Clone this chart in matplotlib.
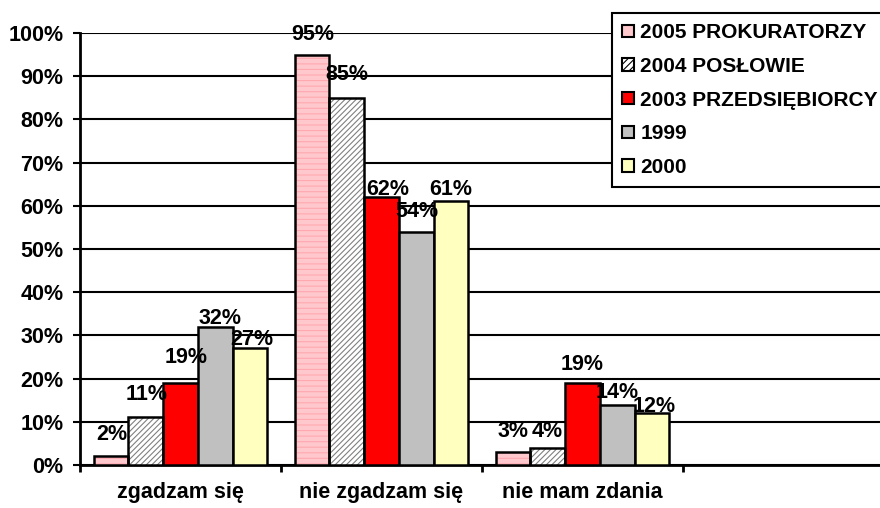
import matplotlib.pyplot as plt
import numpy as np
from matplotlib.patches import Patch

plt.rcParams['font.family'] = ['Liberation Sans', 'DejaVu Sans']
plt.rcParams['font.weight'] = 'bold'
plt.rcParams['hatch.linewidth'] = 0.8

categories = ['zgadzam się', 'nie zgadzam się', 'nie mam zdania']
series = ['2005 PROKURATORZY', '2004 POSŁOWIE', '2003 PRZEDSIĘBIORCY', '1999', '2000']
values = [
    [2, 95, 3],
    [11, 85, 4],
    [19, 62, 19],
    [32, 54, 14],
    [27, 61, 12],
]

colors = ['#FFC8CC', 'white', '#FF0000', '#C0C0C0', '#FFFFC0']
hatches = ['---', '//////', None, None, None]
hatch_colors = ['#FFA8B0', '#808080', None, None, None]
# label placement as it sits in the original (px above bar top, px sideways)
label_gap = [[16, 15, 15], [17, 18, 11], [20, 2, 13], [3, 15, 7], [3, 6, 1]]
label_dx = [[1, 1, 0], [1, 0, -1], [6, 6, 0], [5, 1, 0], [2, 0, 2]]
fs = 15.5

fig = plt.figure(figsize=(8.8, 5.08), dpi=100)
ax = fig.add_axes([80 / 880, 43 / 508, 804 / 880, 432 / 508])

x = np.arange(len(categories))
w = 0.173
for j, name in enumerate(series):
    pos = x + (j - 2) * w
    vals = np.array(values[j]) / 100
    if hatches[j]:
        ax.bar(pos, vals, w, color=colors[j], edgecolor=hatch_colors[j],
               hatch=hatches[j], linewidth=0, zorder=3)
        ax.bar(pos, vals, w, facecolor='none', edgecolor='black', linewidth=1.8, zorder=4)
    else:
        ax.bar(pos, vals, w, color=colors[j], edgecolor='black', linewidth=1.8, zorder=3)
    for k, v in enumerate(values[j]):
        ax.annotate(f'{v}%', (pos[k], v / 100),
                    xytext=(label_dx[j][k] * 0.72, label_gap[j][k] * 0.72),
                    textcoords='offset points', ha='center', va='baseline',
                    fontsize=fs, fontweight='bold', zorder=5)

ax.set_xlim(-0.5, 3.5)
ax.set_ylim(0, 1)
ticks = np.arange(0, 1.01, 0.1)
ax.set_yticks(ticks)
ax.set_yticklabels([f'{int(round(t * 100))}%' for t in ticks])
ax.yaxis.grid(True, color='black', linewidth=1.5, zorder=0)
ax.set_axisbelow(True)

ax.set_xticks([-0.5, 0.5, 1.5, 2.5, 3.5])
ax.set_xticklabels([])
ax.set_xticks(x, minor=True)
ax.set_xticklabels(categories, minor=True)
ax.tick_params(axis='x', which='minor', length=0, pad=12, labelsize=fs)
ax.tick_params(axis='x', which='major', length=5, width=2, direction='out')
ax.tick_params(axis='y', length=5, width=1.5, pad=7, labelsize=fs)

for s in ['top', 'right']:
    ax.spines[s].set_visible(False)
for s in ['left', 'bottom']:
    ax.spines[s].set_linewidth(2)

handles = []
for j, name in enumerate(series):
    handles.append(Patch(facecolor=colors[j], edgecolor='black',
                         hatch='/////' if j == 1 else None, linewidth=1.5, label=name))

leg = fig.legend(handles=handles, loc='upper left', bbox_to_anchor=(612 / 880, 1 - 13 / 508),
                 fontsize=15, handlelength=0.55, handleheight=0.55, handletextpad=0.3,
                 labelspacing=0.7, borderpad=0.5, borderaxespad=0, fancybox=False,
                 framealpha=1, edgecolor='black')
leg.get_frame().set_linewidth(1.5)
for t in leg.get_texts():
    t.set_fontweight('bold')

fig.savefig('out.png', dpi=100)
